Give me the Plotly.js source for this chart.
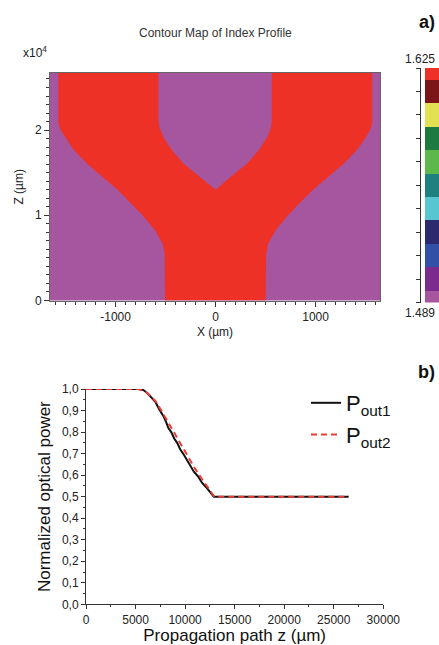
<!DOCTYPE html>
<html>
<head>
<meta charset="utf-8">
<script src="https://cdn.plot.ly/plotly-3.0.1.min.js"></script>
<style>html,body{margin:0;padding:0;background:#fff;}#chart{width:439px;height:645px;}</style>
</head>
<body>
<div id="chart"></div>
<script>
// ---- Panel a): index profile of the Y-branch (boundary of the high-index core) ----
const outerZ      = [0, 5500, 6700, 8300, 10000, 11000, 13000, 14500, 16100, 17700, 19200, 20000, 20800, 26700];
const outerLeftX  = [-505, -510, -530, -610, -730, -810, -980, -1130, -1290, -1420, -1510, -1550, -1572, -1572];
const outerRightX = [500, 505, 525, 605, 725, 805, 975, 1125, 1285, 1415, 1505, 1545, 1566, 1566];
const innerZ      = [13000, 14500, 16100, 17700, 19200, 20400, 21200, 26700];
const innerLeftX  = [0, -157, -323, -440, -523, -563, -572, -572];
const innerRightX = [0, 150, 318, 435, 518, 555, 563, 563];

// colour scale levels (index values) and their colours, bottom to top
const indexLevels = [1.489, 1.5026, 1.5162, 1.5298, 1.5434, 1.557, 1.5706, 1.5842, 1.5978, 1.6114, 1.625];
const levelColors = ['#a6559f', '#7b2a8e', '#3151a6', '#2b2a6e', '#58c6d1', '#1e8180', '#5cb84b', '#1d7a41', '#e1e153', '#7c1517', '#ee3126'];
const coreColor = '#ee3126';
const cladColor = '#a6559f';

// ---- Panel b): normalized optical power along propagation ----
const zPout1 = [0, 5300, 5800, 6200, 6700, 7000, 7400, 7800, 8100, 8300, 8600, 8900, 9200, 9500, 9800, 10200, 10500, 10900, 11300, 11700, 12100, 12500, 12900, 26500];
const pout1  = [1.0, 1.0, 0.995, 0.98, 0.955, 0.94, 0.905, 0.875, 0.845, 0.82, 0.80, 0.77, 0.75, 0.72, 0.70, 0.67, 0.645, 0.615, 0.595, 0.565, 0.545, 0.52, 0.50, 0.50];
const zPout2 = [0, 5300, 6100, 7000, 7600, 8400, 9000, 9600, 10300, 11000, 11800, 12500, 12950, 26500];
const pout2  = [1.0, 1.0, 0.985, 0.945, 0.90, 0.835, 0.79, 0.74, 0.685, 0.63, 0.575, 0.53, 0.50, 0.50];

const xTickVals = [0, 5000, 10000, 15000, 20000, 25000, 30000];
const xTickText = ['0', '5000', '10000', '15000', '20000', '25000', '30000'];
const yTickVals = [0, 0.1, 0.2, 0.3, 0.4, 0.5, 0.6, 0.7, 0.8, 0.9, 1.0];
const yTickText = ['0,0', '0,1', '0,2', '0,3', '0,4', '0,5', '0,6', '0,7', '0,8', '0,9', '1,0'];

// build the closed Y-shaped core outline from the boundary arrays
const polyX = [], polyZ = [];
outerLeftX.forEach((x, i) => { polyX.push(x); polyZ.push(outerZ[i]); });
for (let i = innerLeftX.length - 1; i >= 0; i--) { polyX.push(innerLeftX[i]); polyZ.push(innerZ[i]); }
for (let i = 1; i < innerRightX.length; i++) { polyX.push(innerRightX[i]); polyZ.push(innerZ[i]); }
for (let i = outerRightX.length - 1; i >= 0; i--) { polyX.push(outerRightX[i]); polyZ.push(outerZ[i]); }

const colorscale = levelColors.map((c, i) => [i / (levelColors.length - 1), c]);

const FONT = 'Arial, "Liberation Sans", sans-serif';
const W = 439, H = 645;
const px = v => v / W, py = v => 1 - v / H;

const traces = [
  {
    type: 'scatter', mode: 'lines', x: polyX, y: polyZ, fill: 'toself',
    fillcolor: coreColor, line: {width: 0, color: coreColor},
    xaxis: 'x', yaxis: 'y', showlegend: false, hoverinfo: 'skip'
  },
  {
    type: 'heatmap', x: [0], y: indexLevels, z: indexLevels.map((v, i) => [i]),
    zmin: 0, zmax: levelColors.length - 1, colorscale: colorscale, showscale: false,
    xaxis: 'x3', yaxis: 'y3', hoverinfo: 'skip'
  },
  {
    type: 'scatter', mode: 'lines', x: zPout1, y: pout1, name: 'P<sub>out1</sub>', legendgroup: 'g1',
    line: {color: '#111111', width: 2}, xaxis: 'x2', yaxis: 'y2', cliponaxis: false
  },
  {
    type: 'scatter', mode: 'lines', x: zPout2, y: pout2, name: 'P<sub>out2</sub>', legendgroup: 'g2',
    line: {color: '#ea3f36', width: 2, dash: '6px,4px'}, xaxis: 'x2', yaxis: 'y2', cliponaxis: false
  }
];

const layout = {
  width: W, height: H,
  margin: {l: 0, r: 0, t: 0, b: 0},
  paper_bgcolor: '#ffffff', plot_bgcolor: 'rgba(0,0,0,0)',
  font: {family: FONT, size: 12, color: '#222'},
  showlegend: true,
  legend: {
    x: px(306), y: py(382), xanchor: 'left', yanchor: 'top',
    font: {family: FONT, size: 22, color: '#111'},
    bgcolor: 'rgba(0,0,0,0)', itemwidth: 30, tracegroupgap: 0
  },
  xaxis: {
    domain: [px(50), px(380)], anchor: 'y', range: [-1656, 1644],
    tickvals: [-1000, 0, 1000], ticktext: ['-1000', '0', '1000'],
    ticks: 'outside', ticklen: 5, tickcolor: '#333', tickwidth: 1,
    minor: {dtick: 100, tick0: 0, ticks: 'outside', ticklen: 3, tickcolor: '#333'},
    showline: true, linecolor: '#666', linewidth: 1, mirror: true,
    showgrid: false, zeroline: false, automargin: false,
    tickfont: {size: 12, color: '#222'},
    title: {text: 'X (µm)', font: {size: 12, color: '#222'}, standoff: 4}
  },
  yaxis: {
    domain: [py(300.5), py(73)], anchor: 'x', range: [0, 26700],
    tickvals: [0, 10000, 20000], ticktext: ['0', '1', '2'],
    ticks: 'outside', ticklen: 5, tickcolor: '#333',
    minor: {dtick: 1000, tick0: 0, ticks: 'outside', ticklen: 3, tickcolor: '#333'},
    showline: true, linecolor: '#666', linewidth: 1, mirror: true,
    showgrid: false, zeroline: false, automargin: false,
    tickfont: {size: 12, color: '#222'},
    title: {text: 'Z (µm)', font: {size: 12, color: '#222'}, standoff: 8}
  },
  xaxis3: {
    domain: [px(425), 1], anchor: 'y3', range: [-0.5, 0.5],
    showticklabels: false, ticks: '', showgrid: false, zeroline: false, showline: false
  },
  yaxis3: {
    domain: [py(302.5), py(68)], anchor: 'free', position: px(420), side: 'left',
    range: [indexLevels[0], indexLevels[indexLevels.length - 1]],
    tickvals: indexLevels, showticklabels: false,
    ticks: 'outside', ticklen: 4, tickcolor: '#333',
    showline: true, linecolor: '#333', linewidth: 1,
    showgrid: false, zeroline: false
  },
  xaxis2: {
    domain: [px(86), px(383.3)], anchor: 'y2', range: [0, 30000],
    tickvals: xTickVals, ticktext: xTickText,
    ticks: 'outside', ticklen: 4, tickcolor: '#333',
    minor: {dtick: 2500, tick0: 0, ticks: 'outside', ticklen: 2, tickcolor: '#333'},
    showline: true, linecolor: '#333', linewidth: 1,
    showgrid: false, zeroline: false, automargin: false,
    tickfont: {size: 12, color: '#222'},
    title: {text: 'Propagation path z (µm)', font: {size: 17, color: '#111'}, standoff: 2}
  },
  yaxis2: {
    domain: [py(604.3), py(389)], anchor: 'x2', range: [0, 1.0],
    tickvals: yTickVals, ticktext: yTickText,
    ticks: 'outside', ticklen: 4, tickcolor: '#333',
    minor: {dtick: 0.05, tick0: 0, ticks: 'outside', ticklen: 2, tickcolor: '#333'},
    showline: true, linecolor: '#333', linewidth: 1,
    showgrid: false, zeroline: false, automargin: false,
    tickfont: {size: 12, color: '#222'},
    title: {text: 'Normalized optical power', font: {size: 17, color: '#111'}, standoff: 6}
  },
  shapes: [
    {type: 'rect', xref: 'x domain', yref: 'y domain', x0: 0, x1: 1, y0: 0, y1: 1,
     fillcolor: cladColor, line: {width: 0}, layer: 'below'}
  ],
  annotations: [
    {text: 'Contour Map of Index Profile', xref: 'paper', yref: 'paper', x: px(215), y: py(33),
     xanchor: 'center', yanchor: 'middle', showarrow: false, font: {size: 12, color: '#333'}},
    {text: 'x10<sup>4</sup>', xref: 'paper', yref: 'paper', x: px(21), y: py(52),
     xanchor: 'left', yanchor: 'middle', showarrow: false, font: {size: 12, color: '#222'}},
    {text: '<b>a)</b>', xref: 'paper', yref: 'paper', x: px(437), y: py(22),
     xanchor: 'right', yanchor: 'middle', showarrow: false, font: {size: 18, color: '#111'}},
    {text: '<b>b)</b>', xref: 'paper', yref: 'paper', x: px(437), y: py(372),
     xanchor: 'right', yanchor: 'middle', showarrow: false, font: {size: 18, color: '#111'}},
    {text: '1.625', xref: 'paper', yref: 'paper', x: px(437), y: py(59),
     xanchor: 'right', yanchor: 'middle', showarrow: false, font: {size: 12, color: '#222'}},
    {text: '1.489', xref: 'paper', yref: 'paper', x: px(437), y: py(313),
     xanchor: 'right', yanchor: 'middle', showarrow: false, font: {size: 12, color: '#222'}}
  ]
};

Plotly.newPlot('chart', traces, layout, {displayModeBar: false, staticPlot: true});
</script>
</body>
</html>
